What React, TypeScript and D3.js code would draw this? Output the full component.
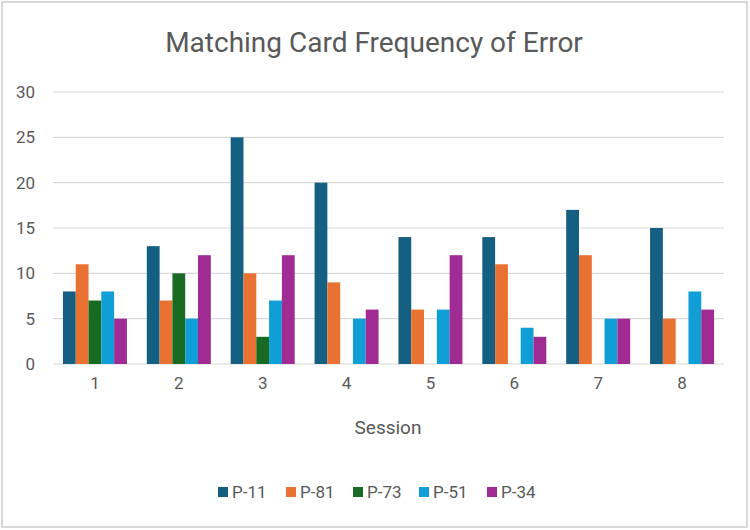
import React from "react";
import * as d3 from "d3";

const sessions = ["1", "2", "3", "4", "5", "6", "7", "8"];
const seriesNames = ["P-11", "P-81", "P-73", "P-51", "P-34"];
const p11 = [8, 13, 25, 20, 14, 14, 17, 15];
const p81 = [11, 7, 10, 9, 6, 11, 12, 5];
const p73 = [7, 10, 3, 0, 0, 0, 0, 0];
const p51 = [8, 5, 7, 5, 6, 4, 5, 8];
const p34 = [5, 12, 12, 6, 12, 3, 5, 6];
const seriesColors = ["#156082", "#E97132", "#196B24", "#0F9ED5", "#A02B93"];
const yTicks = [0, 5, 10, 15, 20, 25, 30];

const W = 750;
const H = 530;
const FONT = "Roboto, 'Liberation Sans', sans-serif";
const TEXT = "#595959";

export default function App() {
  const values = [p11, p81, p73, p51, p34];
  const x0 = d3
    .scaleBand<string>()
    .domain(sessions)
    .range([53, 724])
    .paddingInner(0.237)
    .paddingOuter(0.1185);
  const x1 = d3
    .scaleBand<string>()
    .domain(seriesNames)
    .range([0, x0.bandwidth()]);
  const y = d3.scaleLinear().domain([0, 30]).range([364, 92]);

  return (
    <svg
      width={W}
      height={H}
      style={{ position: "absolute", left: 0, top: 0, background: "#fff" }}
      fontFamily={FONT}
    >
      <rect x={2} y={2} width={745} height={525} fill="#fff" stroke="#d9d9d9" strokeWidth={2} />
      <text x={374} y={52} textAnchor="middle" fontSize={28} fill={TEXT}>
        Matching Card Frequency of Error
      </text>
      {yTicks.map((t) => (
        <g key={t}>
          <line x1={53} x2={724} y1={y(t)} y2={y(t)} stroke="#d9d9d9" strokeWidth={1.2} />
          <text x={35} y={y(t)} dy="0.35em" textAnchor="end" fontSize={17} fill={TEXT}>
            {t}
          </text>
        </g>
      ))}
      {sessions.map((s, i) => (
        <g key={s} transform={`translate(${x0(s)},0)`}>
          {seriesNames.map((n, j) =>
            values[j][i] > 0 ? (
              <rect
                key={n}
                x={x1(n)}
                y={y(values[j][i])}
                width={x1.bandwidth()}
                height={y(0) - y(values[j][i])}
                fill={seriesColors[j]}
              />
            ) : null
          )}
          <text
            x={x0.bandwidth() / 2}
            y={383}
            dy="0.35em"
            textAnchor="middle"
            fontSize={17}
            fill={TEXT}
          >
            {s}
          </text>
        </g>
      ))}
      <text x={388} y={427} dy="0.35em" textAnchor="middle" fontSize={19} fill={TEXT}>
        Session
      </text>
      {(() => {
        const starts = [218, 286, 353, 419, 487];
        return seriesNames.map((n, j) => (
          <g key={n}>
            <rect x={starts[j]} y={487} width={10} height={10} fill={seriesColors[j]} />
            <text x={starts[j] + 14} y={492} dy="0.35em" fontSize={17} fill={TEXT}>
              {n}
            </text>
          </g>
        ));
      })()}
    </svg>
  );
}
